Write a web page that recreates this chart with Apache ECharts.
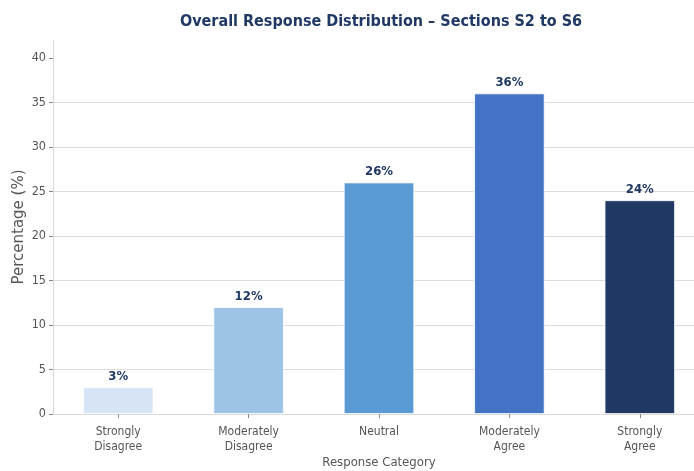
<!DOCTYPE html>
<html>
<head>
<meta charset="utf-8">
<script src="https://cdn.jsdelivr.net/npm/echarts@6/dist/echarts.min.js"></script>
<style>
  html, body { margin: 0; padding: 0; background: #ffffff; }
  #chart { width: 694px; height: 471px; }
</style>
</head>
<body>
<div id="chart"></div>
<script>
// Response categories (two-line labels) and their share in percent
const categories = ['Strongly\nDisagree', 'Moderately\nDisagree', 'Neutral', 'Moderately\nAgree', 'Strongly\nAgree'];
const percentages = [3, 12, 26, 36, 24];
const barColors = ['#d6e4f5', '#9dc3e6', '#5b9bd5', '#4472c4', '#203864'];
const yTicks = [0, 5, 10, 15, 20, 25, 30, 35, 40];

const condensed = '"DejaVu Sans Condensed", "DejaVu Sans", sans-serif';
const navy = '#1f3864';

const chart = echarts.init(document.getElementById('chart'), null, { renderer: 'canvas' });

chart.setOption({
  animation: false,
  backgroundColor: '#ffffff',
  title: {
    text: 'Overall Response Distribution – Sections S2 to S6',
    left: 376,
    top: 9,
    textAlign: 'center',
    textStyle: { fontFamily: condensed, fontWeight: 'bold', fontSize: 16, color: navy }
  },
  grid: {
    left: 53, right: -11, top: 40, bottom: 57,
    containLabel: false,
    outerBoundsMode: 'none'
  },
  xAxis: {
    type: 'category',
    data: categories,
    name: 'Response Category',
    nameLocation: 'middle',
    nameGap: 42,
    nameMoveOverlap: false,
    nameTextStyle: { fontFamily: condensed, fontSize: 13, color: '#555555' },
    axisLine: { show: true, lineStyle: { color: '#d9d9d9', width: 1 } },
    axisTick: { show: true, alignWithLabel: true, length: 4, lineStyle: { color: '#888888' } },
    axisLabel: { fontFamily: condensed, fontSize: 12, color: '#555555', margin: 10, lineHeight: 15, interval: 0 }
  },
  yAxis: {
    type: 'value',
    min: 0,
    max: 42,
    interval: 5,
    name: 'Percentage (%)',
    nameLocation: 'middle',
    nameGap: 26,
    nameMoveOverlap: false,
    nameRotate: 90,
    nameTextStyle: { fontFamily: '"DejaVu Sans", sans-serif', fontSize: 15, color: '#555555' },
    axisLine: { show: true, lineStyle: { color: '#d9d9d9', width: 1 } },
    axisTick: { show: true, length: 4, lineStyle: { color: '#888888' }, customValues: yTicks },
    axisLabel: { fontFamily: condensed, fontSize: 12.5, color: '#555555', margin: 7, customValues: yTicks },
    splitLine: { show: true, showMaxLine: false, lineStyle: { color: '#dcdcdc', width: 1 } }
  },
  series: [{
    type: 'bar',
    data: percentages.map((v, i) => ({ value: v, itemStyle: { color: barColors[i] } })),
    barWidth: '54%',
    itemStyle: { borderColor: '#ffffff', borderWidth: 0.8 },
    label: {
      show: true,
      position: 'top',
      distance: 4,
      formatter: p => p.value + '%',
      fontFamily: condensed,
      fontWeight: 'bold',
      fontSize: 13,
      color: navy
    }
  }]
});
</script>
</body>
</html>
